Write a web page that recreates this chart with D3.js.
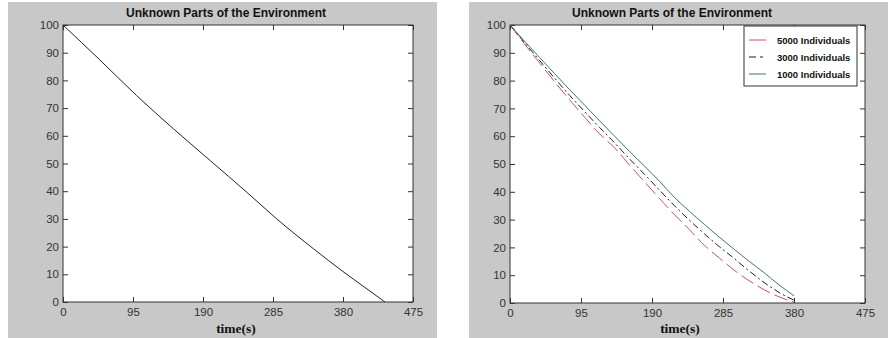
<!DOCTYPE html>
<html>
<head>
<meta charset="utf-8">
<script src="https://cdn.jsdelivr.net/npm/d3@7"></script>
<style>
  body { margin: 0; background: #fff; }
  svg { display: block; }
  .tick text { font-family: "Liberation Sans", Arial, sans-serif; font-size: 11.5px; fill: #333; }
</style>
</head>
<body>
<div id="chart-area"></div>
<script>
// ---- data ----
const chartTitle = "Unknown Parts of the Environment";
const xLabel = "time(s)";
const xTicks = [0, 95, 190, 285, 380, 475];
const yTicks = [0, 10, 20, 30, 40, 50, 60, 70, 80, 90, 100];

// left panel: single run
const singleTime  = [0, 50, 100, 150, 200, 250, 290, 340, 380, 410, 437];
const singleValue = [100, 87.4, 74.5, 62.5, 51, 39.5, 30, 19.2, 11, 5.2, 0];

// right panel: three population sizes
const multiTime  = [0, 20, 40, 60, 80, 100, 120, 140, 160, 180, 200, 220, 240, 260, 280, 300, 320, 340, 360, 380];
const series5000 = [100, 93.0, 86.2, 79.5, 73.0, 66.8, 60.8, 55.8, 49.6, 43.6, 37.6, 31.8, 26.4, 20.8, 16.2, 11.8, 8.0, 4.8, 2.2, 0.3];
const series3000 = [100, 93.5, 87.1, 80.8, 74.6, 68.8, 63.1, 57.6, 51.8, 46.3, 40.6, 35.0, 29.8, 24.9, 20.3, 16.0, 11.5, 7.4, 3.8, 1.0];
const series1000 = [100, 94.0, 88.2, 82.4, 76.7, 71.1, 65.5, 60.0, 54.5, 49.2, 43.8, 38.0, 33.0, 28.3, 23.7, 19.3, 15.0, 10.9, 6.5, 2.6];
const seriesNames = ["5000 Individuals", "3000 Individuals", "1000 Individuals"];
const seriesColors = ["#c8506e", "#1c1c3c", "#3d7a5c"];
const seriesDash = ["14,5", "7,3,2,3", null];

// ---- layout ----
const svg = d3.select("#chart-area").append("svg")
  .attr("width", 888)
  .attr("height", 338);

function drawPanel(p) {
  // grey figure background
  svg.append("rect")
    .attr("x", p.bgX).attr("y", 2)
    .attr("width", p.bgW).attr("height", 336)
    .attr("fill", "#c8c8c8");

  const g = svg.append("g").attr("transform", "translate(" + p.left + "," + p.top + ")");
  const w = p.width, h = p.height;

  g.append("rect").attr("width", w).attr("height", h).attr("fill", "#fff");

  const x = d3.scaleLinear().domain([0, 475]).range([0, w]);
  const y = d3.scaleLinear().domain([0, 100]).range([h, 0]);

  // ticks on all four sides, pointing in
  g.append("g").attr("transform", "translate(0," + h + ")")
    .call(d3.axisBottom(x).tickValues(xTicks).tickSizeInner(-5).tickSizeOuter(0).tickPadding(6));
  g.append("g")
    .call(d3.axisTop(x).tickValues(xTicks).tickSizeInner(-5).tickSizeOuter(0).tickFormat(""));
  g.append("g")
    .call(d3.axisLeft(y).tickValues(yTicks).tickSizeInner(-5).tickSizeOuter(0).tickPadding(4));
  g.append("g").attr("transform", "translate(" + w + ",0)")
    .call(d3.axisRight(y).tickValues(yTicks).tickSizeInner(-5).tickSizeOuter(0).tickFormat(""));
  g.selectAll(".domain").remove();
  g.selectAll(".tick line").attr("stroke", "#333");
  g.selectAll(".tick text").attr("fill", "#333");

  g.append("rect").attr("width", w).attr("height", h)
    .attr("fill", "none").attr("stroke", "#333").attr("stroke-width", 1);

  // title and x label
  svg.append("text")
    .attr("x", p.titleX).attr("y", 17)
    .attr("text-anchor", "middle")
    .style("font-family", "'Liberation Sans', Arial, sans-serif")
    .style("font-size", "12px").style("font-weight", "bold")
    .attr("fill", "#111")
    .text(chartTitle);
  svg.append("text")
    .attr("x", p.labelX).attr("y", 333)
    .attr("text-anchor", "middle")
    .style("font-family", "'Liberation Serif', 'DejaVu Serif', serif")
    .style("font-size", "13.5px").style("font-weight", "bold")
    .attr("fill", "#111")
    .text(xLabel);

  return { g: g, x: x, y: y };
}

// left panel
const left = drawPanel({ bgX: 8, bgW: 429, left: 63, top: 25, width: 350, height: 277, titleX: 226, labelX: 236 });
const lineL = d3.line()
  .x(d => left.x(d[0])).y(d => left.y(d[1]))
  .curve(d3.curveMonotoneX);
left.g.append("path")
  .datum(d3.zip(singleTime, singleValue))
  .attr("fill", "none").attr("stroke", "#222").attr("stroke-width", 1)
  .attr("d", lineL);

// right panel
const right = drawPanel({ bgX: 469, bgW: 419, left: 510, top: 25, width: 355, height: 278, titleX: 672, labelX: 680 });
const lineR = d3.line()
  .x(d => right.x(d[0])).y(d => right.y(d[1]))
  .curve(d3.curveMonotoneX);
[series5000, series3000, series1000].forEach((s, i) => {
  right.g.append("path")
    .datum(d3.zip(multiTime, s))
    .attr("fill", "none")
    .attr("stroke", seriesColors[i])
    .attr("stroke-width", 1)
    .attr("stroke-dasharray", seriesDash[i])
    .attr("d", lineR);
});

// legend
const legend = svg.append("g").attr("transform", "translate(744,26)");
legend.append("rect").attr("width", 113).attr("height", 60)
  .attr("fill", "#fff").attr("stroke", "#333");
seriesNames.forEach((name, i) => {
  const row = legend.append("g").attr("transform", "translate(0," + (14 + i * 17) + ")");
  row.append("line")
    .attr("x1", 5).attr("x2", 22)
    .attr("stroke", seriesColors[i])
    .attr("stroke-dasharray", i == 1 ? "7,4,3,4" : null);
  row.append("text")
    .attr("x", 33).attr("y", 4)
    .style("font-family", "'Liberation Sans', Arial, sans-serif")
    .style("font-size", "9.5px").style("font-weight", "bold")
    .attr("fill", "#111")
    .text(name);
});
</script>
</body>
</html>
